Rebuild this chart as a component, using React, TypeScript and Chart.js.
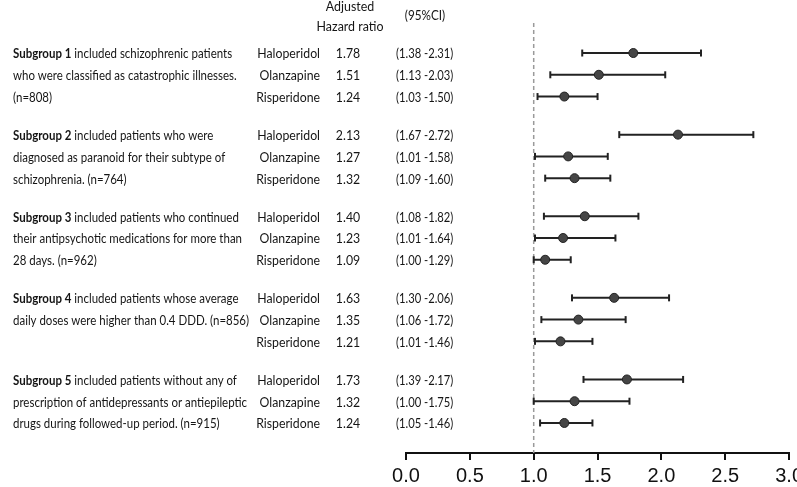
import React, { useEffect, useRef } from "react";
import { Chart, registerables } from "chart.js";

Chart.register(...registerables);

const drugs = ["Haloperidol", "Olanzapine", "Risperidone"];
const subgroupTitles = ["Subgroup 1", "Subgroup 2", "Subgroup 3", "Subgroup 4", "Subgroup 5"];
const subgroupLines = [
  [" included schizophrenic patients", "who were classified as catastrophic illnesses.", "(n=808)"],
  [" included patients who were", "diagnosed as paranoid for their subtype of", "schizophrenia. (n=764)"],
  [" included patients who continued", "their antipsychotic medications for more than", "28 days. (n=962)"],
  [" included patients whose average", "daily doses were higher than 0.4 DDD. (n=856)"],
  [" included patients without any of", "prescription of antidepressants or antiepileptic", "drugs during followed-up period. (n=915)"],
];
const hazardRatio = [
  [1.78, 1.51, 1.24],
  [2.13, 1.27, 1.32],
  [1.40, 1.23, 1.09],
  [1.63, 1.35, 1.21],
  [1.73, 1.32, 1.24],
];
const ciLow = [
  [1.38, 1.13, 1.03],
  [1.67, 1.01, 1.09],
  [1.08, 1.01, 1.00],
  [1.30, 1.06, 1.01],
  [1.39, 1.00, 1.05],
];
const ciHigh = [
  [2.31, 2.03, 1.50],
  [2.72, 1.58, 1.60],
  [1.82, 1.64, 1.29],
  [2.06, 1.72, 1.46],
  [2.17, 1.75, 1.46],
];
const referenceValue = 1;
const xMin = 0;
const xMax = 3;
const xStep = 0.5;
const headerHR = ["Adjusted", "Hazard ratio"];
const headerCI = "(95%CI)";

const GROUP_GAP = 3.75;
const rowPos = (g: number, r: number) => g * GROUP_GAP + r;
const Y_MIN = -1.38;
const Y_MAX = rowPos(subgroupTitles.length - 1, 2) + 1.38;

const TEXT_FONT = "Lato, 'Open Sans', 'Noto Sans', sans-serif";
const TEXT_COLOR = "#151515";

function drawText(ctx: CanvasRenderingContext2D, text: string, x: number, y: number, align: CanvasTextAlign, sx: number) {
  ctx.save();
  ctx.translate(x, y);
  ctx.scale(sx, 1);
  ctx.textAlign = align;
  ctx.fillText(text, 0, 0);
  ctx.restore();
}

const textPlugin = {
  id: "forestText",
  afterDraw(chart: any) {
    const ctx: CanvasRenderingContext2D = chart.ctx;
    const ys = chart.scales.y;
    ctx.save();
    ctx.fillStyle = TEXT_COLOR;
    ctx.textBaseline = "middle";
    const normal = `13.5px ${TEXT_FONT}`;
    const bold = `bold 13.5px ${TEXT_FONT}`;
    ctx.font = normal;
    drawText(ctx, headerHR[0], 350, 7, "center", 0.92);
    drawText(ctx, headerHR[1], 350, 27, "center", 0.92);
    drawText(ctx, headerCI, 425, 16, "center", 0.87);
    const SX_LEFT = 0.85;
    subgroupTitles.forEach((title, g) => {
      subgroupLines[g].forEach((line, i) => {
        const y = ys.getPixelForValue(rowPos(g, i)) + 1;
        let x = 13;
        if (i === 0) {
          ctx.font = bold;
          drawText(ctx, title, x, y, "left", SX_LEFT);
          x += ctx.measureText(title).width * SX_LEFT;
        }
        ctx.font = normal;
        drawText(ctx, line, x, y, "left", SX_LEFT);
      });
      drugs.forEach((d, r) => {
        const y = ys.getPixelForValue(rowPos(g, r)) + 1;
        ctx.font = normal;
        drawText(ctx, d, 320, y, "right", 0.91);
        drawText(ctx, hazardRatio[g][r].toFixed(2), 348, y, "center", 0.91);
        drawText(ctx, `(${ciLow[g][r].toFixed(2)} -${ciHigh[g][r].toFixed(2)})`, 396, y, "left", 0.83);
      });
    });
    ctx.restore();
  },
};

export default function App() {
  const ref = useRef<HTMLCanvasElement>(null);
  useEffect(() => {
    if (!ref.current) return;
    const datasets: any[] = [];
    datasets.push({
      type: "line",
      data: [
        { x: referenceValue, y: Y_MIN },
        { x: referenceValue, y: Y_MAX },
      ],
      borderColor: "#9a9a9a",
      borderWidth: 1.5,
      borderDash: [4, 3],
      pointRadius: 0,
      order: 3,
    });
    const points: any[] = [];
    hazardRatio.forEach((grp, g) => {
      grp.forEach((v, r) => {
        const y = rowPos(g, r);
        datasets.push({
          type: "line",
          data: [
            { x: ciLow[g][r], y },
            { x: ciHigh[g][r], y },
          ],
          borderColor: "#222",
          borderWidth: 2,
          pointStyle: "line",
          rotation: 90,
          pointRadius: 3.5,
          pointBorderWidth: 2,
          pointBorderColor: "#222",
          order: 2,
        });
        points.push({ x: v, y });
      });
    });
    datasets.push({
      type: "scatter",
      data: points,
      backgroundColor: "#454545",
      borderColor: "#222",
      borderWidth: 1,
      pointRadius: 4.5,
      order: 1,
    });
    const chart = new Chart(ref.current, {
      type: "scatter",
      data: { datasets },
      options: {
        responsive: false,
        animation: false,
        clip: false as any,
        layout: { padding: { left: 406, right: 0, top: 23, bottom: 0 } },
        plugins: { legend: { display: false }, tooltip: { enabled: false } },
        scales: {
          x: {
            type: "linear",
            min: xMin,
            max: xMax,
            ticks: {
              stepSize: xStep,
              color: "#111",
              padding: 6,
              font: { family: "'Liberation Sans', Arial, sans-serif", size: 20, lineHeight: 1.05 },
              callback: (v: any) => Number(v).toFixed(1),
            },
            border: { display: true, color: "#111", width: 2 },
            grid: { drawOnChartArea: false, drawTicks: true, tickLength: 7, color: "#111", lineWidth: 2 },
          },
          y: {
            type: "linear",
            display: false,
            reverse: true,
            min: Y_MIN,
            max: Y_MAX,
          },
        },
      },
      plugins: [textPlugin],
    });
    return () => chart.destroy();
  }, []);
  return (
    <div style={{ position: "absolute", left: 0, top: 0, width: 797, height: 487, overflow: "hidden" }}>
      <canvas ref={ref} width={809} height={493} />
    </div>
  );
}
